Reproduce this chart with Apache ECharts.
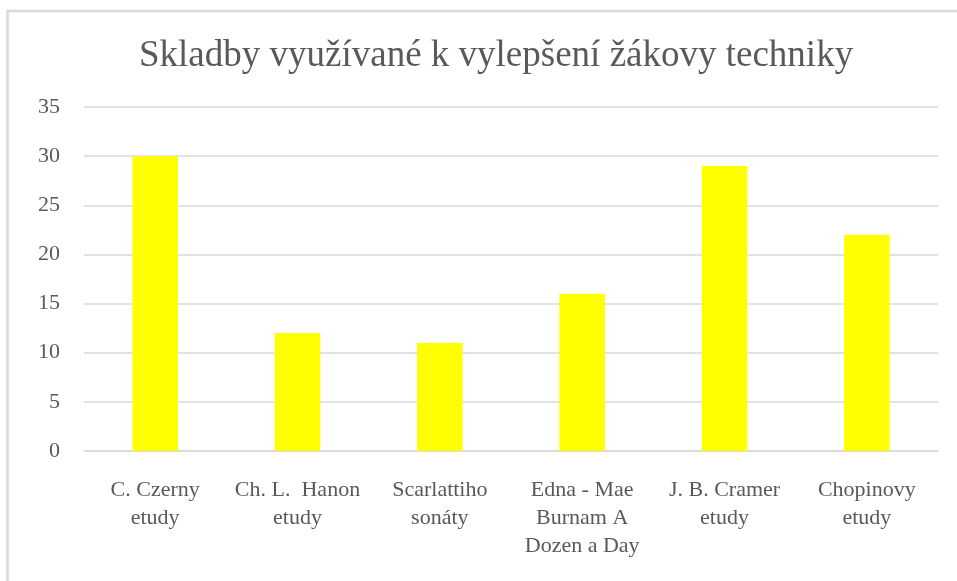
<!DOCTYPE html>
<html>
<head>
<meta charset="utf-8">
<script src="https://cdn.jsdelivr.net/npm/echarts@6/dist/echarts.min.js"></script>
<style>
html, body { margin: 0; padding: 0; background: #fff; }
#main { width: 957px; height: 581px; }
</style>
</head>
<body>
<div id="main"></div>
<script>
// data
let categories = ['C. Czerny\netudy', 'Ch. L.  Hanon\netudy', 'Scarlattiho\nsonáty',
	'Edna - Mae\nBurnam A\nDozen a Day', 'J. B. Cramer\netudy', 'Chopinovy\netudy']
let values = [30, 12, 11, 16, 29, 22]

let myChart = echarts.init(document.getElementById('main'))

let font = '"Liberation Serif", "Times New Roman", serif'

let option = {
	backgroundColor: '#fff',
	animation: false,
	graphic: [{
		type: 'rect',
		shape: { x: 7.5, y: 11, width: 960, height: 580 },
		style: { fill: 'none', stroke: '#d9d9d9', lineWidth: 2.5 }
	}],
	title: {
		text: 'Skladby využívané k vylepšení žákovy techniky',
		left: 134,
		top: 33,
		textStyle: {
			fontFamily: font,
			fontSize: 37,
			fontWeight: 'normal',
			color: '#595959'
		}
	},
	grid: {
		left: 84,
		right: 19,
		top: 107,
		bottom: 130
	},
	xAxis: {
		type: 'category',
		data: categories,
		axisTick: { show: false },
		axisLine: { lineStyle: { color: '#d9d9d9', width: 1.5 } },
		axisLabel: {
			interval: 0,
			margin: 25,
			fontFamily: font,
			fontSize: 22,
			lineHeight: 28,
			color: '#595959'
		}
	},
	yAxis: {
		type: 'value',
		min: 0,
		max: 35,
		interval: 5,
		axisLine: { show: false },
		axisTick: { show: false },
		splitLine: { lineStyle: { color: '#d9d9d9', width: 1.5 } },
		axisLabel: {
			margin: 24,
			fontFamily: font,
			fontSize: 22,
			color: '#595959'
		}
	},
	series: [{
		type: 'bar',
		data: values,
		barWidth: '32%',
		itemStyle: { color: '#ffff00' }
	}]
}

myChart.setOption(option)
</script>
</body>
</html>
